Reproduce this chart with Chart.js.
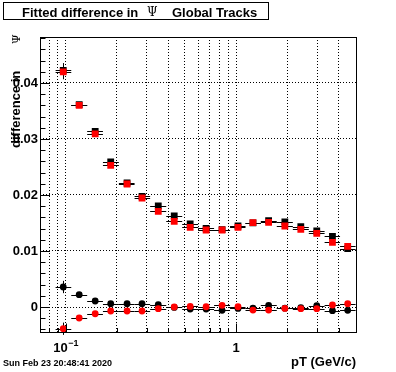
<!DOCTYPE html>
<html>
<head>
<meta charset="utf-8">
<script src="https://cdn.jsdelivr.net/npm/chart.js@4"></script>
<style>
  html, body { margin: 0; padding: 0; background: #fff; }
  #wrap { width: 396px; height: 372px; position: relative; }
</style>
</head>
<body>
<div id="wrap"><canvas id="c" width="396" height="372"></canvas></div>
<script>
// ---- data ----
const pT = [0.0969, 0.1202, 0.1492, 0.1840, 0.2295, 0.2809, 0.3498, 0.4340, 0.5383, 0.6676,
            0.8281, 1.027, 1.257, 1.553, 1.934, 2.399, 2.976, 3.678, 4.519];
const binEdges = [0.0874, 0.1080, 0.1339, 0.1657, 0.2055, 0.2540, 0.3134, 0.3896, 0.4833, 0.5995,
                  0.7435, 0.9224, 1.1367, 1.3976, 1.7337, 2.154, 2.673, 3.308, 4.076, 5.03];
const blackSquares = [0.04225, 0.03613, 0.03136, 0.02589, 0.02214, 0.01975, 0.01804, 0.01625, 0.01482, 0.01404,
                      0.01380, 0.01446, 0.01500, 0.01541, 0.01518, 0.01434, 0.01357, 0.01261, 0.01041];
const redSquares = [0.04196, 0.03600, 0.03089, 0.02529, 0.02196, 0.01946, 0.01707, 0.01529, 0.01421, 0.01375,
                    0.01375, 0.01421, 0.01505, 0.01511, 0.01446, 0.01386, 0.01314, 0.01154, 0.01082];
const blackCircles = [0.00357, 0.00220, 0.00107, 0.00059, 0.00059, 0.00059, 0.00041, -0.00007, -0.00036, -0.00036,
                      -0.00060, -0.00025, -0.00020, 0.00030, -0.00020, -0.00013, 0.00023, -0.00066, -0.00060];
const redCircles = [-0.00388, -0.00196, -0.00120, -0.00071, -0.00071, -0.00071, -0.00030, 0.00000, 0.00010, 0.00005,
                    0.00030, 0.00005, -0.00054, -0.00054, -0.00025, -0.00030, -0.00030, 0.00036, 0.00059];
const squareErr = [0.0013, 0.0003, 0.0003, 0.0003, 0.0002, 0.0002, 0.0002, 0.0002, 0.0002, 0.0002,
                   0.0002, 0.0002, 0.0002, 0.0002, 0.0002, 0.0002, 0.0002, 0.0002, 0.0002];
const circleErr = [0.0011, 0.0003, 0.0002, 0.0002, 0.0002, 0.0002, 0.0002, 0.0002, 0.0002, 0.0002,
                   0.0002, 0.0002, 0.0002, 0.0002, 0.0002, 0.0002, 0.0002, 0.0002, 0.0002];

const xGridTicks = [0.08, 0.09, 0.1, 0.2, 0.3, 0.4, 0.5, 0.6, 0.7, 0.8, 0.9, 1, 2, 3, 4];
const xMajorTicks = [0.1, 1];
const xTickBase = ['10', '1'];
const xTickExp = ['\u22121', ''];
const yMajorTicks = [0, 0.01, 0.02, 0.03, 0.04];
const yTickLabels = ['0', '0.01', '0.02', '0.03', '0.04'];
const yMinorTicks = [-0.004, -0.002, 0.002, 0.004, 0.006, 0.008, 0.012, 0.014, 0.016, 0.018,
                     0.022, 0.024, 0.026, 0.028, 0.032, 0.034, 0.036, 0.038, 0.042, 0.044, 0.046, 0.048];

const titleText = 'Fitted difference in';
const titleSymbol = '\u03A8';
const titleText2 = 'Global Tracks';
const yTitle = 'difference in';
const xTitle = 'pT (GeV/c)';
const dateText = 'Sun Feb 23 20:48:41 2020';

const FONT = '"Liberation Sans", Arial, Helvetica, sans-serif';

function pts(ys) { return pT.map((x, i) => ({ x: x, y: ys[i] })); }
function findIdx(arr, v) { return arr.findIndex(a => Math.abs(a - v) < 1e-9); }

const series = [
  { data: blackSquares, err: squareErr },
  { data: redSquares, err: squareErr },
  { data: blackCircles, err: circleErr },
  { data: redCircles, err: circleErr }
];

const decor = {
  id: 'decor',
  beforeDatasetsDraw(chart) {
    const ctx = chart.ctx, xs = chart.scales.x, ys = chart.scales.y;
    ctx.save();
    ctx.strokeStyle = '#000';
    ctx.lineWidth = 1;
    series.forEach(s => {
      s.data.forEach((v, i) => {
        const y = Math.round(ys.getPixelForValue(v)) + 0.5;
        const x = Math.round(xs.getPixelForValue(pT[i])) + 0.5;
        const x1 = xs.getPixelForValue(binEdges[i]);
        const x2 = xs.getPixelForValue(binEdges[i + 1]);
        ctx.beginPath();
        ctx.moveTo(x1, y); ctx.lineTo(x2, y);
        ctx.moveTo(x, ys.getPixelForValue(v + s.err[i]));
        ctx.lineTo(x, ys.getPixelForValue(v - s.err[i]));
        ctx.stroke();
      });
    });
    ctx.restore();
  },
  afterDraw(chart) {
    const ctx = chart.ctx, a = chart.chartArea, xs = chart.scales.x, ys = chart.scales.y;
    ctx.save();
    ctx.strokeStyle = '#000';
    ctx.lineWidth = 1;
    // frame
    ctx.strokeRect(Math.round(a.left) + 0.5, Math.round(a.top) + 0.5,
                   Math.round(a.right - a.left) - 1, Math.round(a.bottom - a.top) - 1);
    // inside ticks
    ctx.beginPath();
    const bottom = Math.round(a.bottom) - 0.5;
    const left = Math.round(a.left) + 0.5;
    xGridTicks.forEach(v => {
      const x = Math.round(xs.getPixelForValue(v)) + 0.5;
      const len = findIdx(xMajorTicks, v) >= 0 ? 9 : 4.5;
      ctx.moveTo(x, bottom); ctx.lineTo(x, bottom - len);
    });
    yMajorTicks.forEach(v => {
      const y = Math.round(ys.getPixelForValue(v)) + 0.5;
      ctx.moveTo(left, y); ctx.lineTo(left + 9.5, y);
    });
    yMinorTicks.forEach(v => {
      const y = Math.round(ys.getPixelForValue(v)) + 0.5;
      ctx.moveTo(left, y); ctx.lineTo(left + 5, y);
    });
    ctx.stroke();

    ctx.fillStyle = '#000';
    ctx.textBaseline = 'alphabetic';
    ctx.textAlign = 'left';

    // x tick labels with superscript exponent
    xMajorTicks.forEach((v, i) => {
      const px = xs.getPixelForValue(v);
      ctx.font = 'bold 13px ' + FONT;
      const wb = ctx.measureText(xTickBase[i]).width;
      ctx.font = 'bold 9px ' + FONT;
      const we = xTickExp[i] ? ctx.measureText(xTickExp[i]).width : 0;
      const x0 = px - (wb + we) / 2;
      ctx.font = 'bold 13px ' + FONT;
      ctx.fillText(xTickBase[i], x0, 352);
      if (xTickExp[i]) {
        ctx.font = 'bold 9px ' + FONT;
        ctx.fillText(xTickExp[i], x0 + wb + 0.5, 346);
      }
    });

    // title box
    ctx.fillStyle = '#fff';
    ctx.fillRect(3, 2, 266, 18);
    ctx.strokeRect(3.5, 2.5, 265, 17);
    ctx.fillStyle = '#000';
    ctx.font = 'bold 13px ' + FONT;
    ctx.fillText(titleText, 22, 16.5);
    ctx.fillText(titleText2, 172, 16.5);
    ctx.font = '12px "DejaVu Serif", serif';
    ctx.fillText(titleSymbol, 147, 16);

    // y title (rotated)
    ctx.save();
    ctx.translate(20, 148);
    ctx.rotate(-Math.PI / 2);
    ctx.font = 'bold 13px ' + FONT;
    ctx.fillText(yTitle, 0, 0);
    ctx.font = '11px "DejaVu Serif", serif';
    ctx.fillText(titleSymbol, 104, 0);
    ctx.restore();

    // x title
    ctx.font = 'bold 13px ' + FONT;
    ctx.textAlign = 'right';
    ctx.fillText(xTitle, 356, 366);

    // date
    ctx.font = 'bold 9px ' + FONT;
    ctx.textAlign = 'left';
    ctx.fillText(dateText, 3, 366);
    ctx.restore();
  }
};

const dash = [1, 2];

new Chart(document.getElementById('c'), {
  type: 'scatter',
  data: {
    datasets: [
      { data: pts(redSquares), pointStyle: 'rect', pointRadius: 4.8, backgroundColor: '#ff0000', borderWidth: 0, order: 1 },
      { data: pts(blackSquares), pointStyle: 'rect', pointRadius: 4.8, backgroundColor: '#000000', borderWidth: 0, order: 2 },
      { data: pts(redCircles), pointStyle: 'circle', pointRadius: 3.4, backgroundColor: '#ff0000', borderWidth: 0, order: 1 },
      { data: pts(blackCircles), pointStyle: 'circle', pointRadius: 3.4, backgroundColor: '#000000', borderWidth: 0, order: 2 }
    ]
  },
  options: {
    responsive: false,
    animation: false,
    devicePixelRatio: 1,
    layout: { padding: { left: 0, top: 37, right: 39.5, bottom: 0 } },
    plugins: { legend: { display: false }, title: { display: false }, tooltip: { enabled: false } },
    elements: { point: { hoverRadius: 0 } },
    scales: {
      x: {
        type: 'logarithmic',
        min: 0.0708,
        max: 5.09,
        afterFit(s) { s.height = 39; },
        afterBuildTicks(s) { s.ticks = xGridTicks.map(v => ({ value: v })); },
        grid: { color: '#000', lineWidth: 1, drawTicks: false },
        border: { display: false, dash: dash },
        ticks: { display: false, autoSkip: false, maxRotation: 0, minRotation: 0 }
      },
      y: {
        type: 'linear',
        min: -0.00464,
        max: 0.0482,
        afterFit(s) { s.width = 40; },
        afterBuildTicks(s) { s.ticks = yMajorTicks.map(v => ({ value: v })); },
        grid: { color: '#000', lineWidth: 1, drawTicks: false },
        border: { display: false, dash: dash },
        ticks: {
          autoSkip: false, padding: 2,
          color: '#000', font: { family: FONT, size: 13, weight: 'bold' },
          callback(v) { const i = findIdx(yMajorTicks, v); return i >= 0 ? yTickLabels[i] : ''; }
        }
      }
    }
  },
  plugins: [decor]
});
</script>
</body>
</html>
